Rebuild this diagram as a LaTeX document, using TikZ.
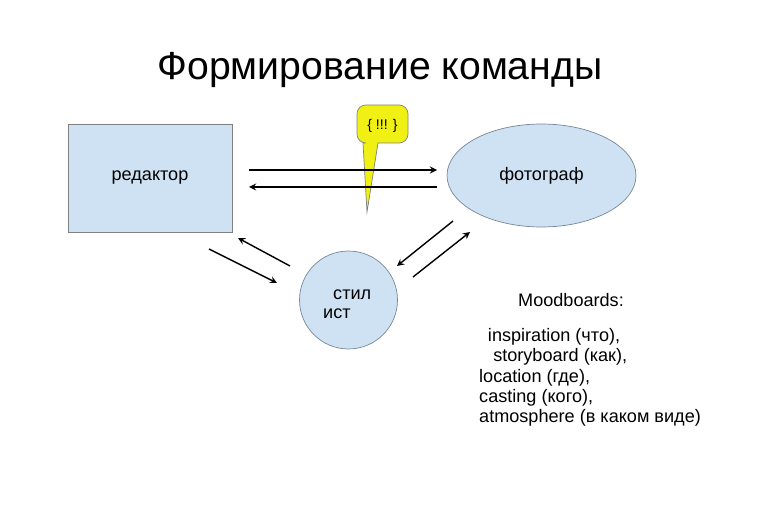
\documentclass[tikz,border=0pt]{standalone}
\usepackage{fontspec}
\setmainfont{Liberation Sans}
\usetikzlibrary{shapes.geometric}

\definecolor{paleblue}{RGB}{207,226,243}
\definecolor{edgeblue}{RGB}{120,135,150}
\definecolor{calloutyellow}{RGB}{240,240,20}

\begin{document}
\begin{tikzpicture}[x=0.02cm, y=-0.02cm,
    block/.style={rectangle, draw=gray, fill=paleblue,
              minimum width=3.28cm, minimum height=2.16cm,
              text centered, font=\fontsize{10.3}{12}\selectfont},
    oval/.style={ellipse, draw=edgeblue, fill=paleblue,
              minimum width=3.78cm, minimum height=2.06cm,
              text centered, font=\fontsize{10.3}{12}\selectfont},
    roundbox/.style={circle, draw=edgeblue, fill=paleblue,
              minimum size=1.96cm, inner sep=0pt},
    plain/.style={font=\fontsize{10.3}{11.6}\selectfont, align=left},
    arrow/.style={->, thick, >=stealth}
]
    \useasboundingbox (0,0) rectangle (765,510);

    \node[font=\fontsize{22.3}{26}\selectfont] (title) at (380,70)
        {Формирование команды};

    \node[block] (ed) at (150,178) {редактор};
    \node[oval] (ph) at (541.5,175.5) {фотограф};
    \node[roundbox] (st) at (348.5,300) {};
    \node[plain, font=\fontsize{10.3}{10.3}\selectfont, anchor=north west]
        (stt) at (317,284) {\hspace*{5.7pt}стил\\ист};

    % callout
    \coordinate (cl) at (357,105);
    \coordinate (cr) at (408,143);
    \coordinate (tip) at (367,212);
    \draw[gray, fill=calloutyellow]
        (378,143) [rounded corners=5pt] -- (cr) -- (cr |- cl) -- (cl)
        -- (cl |- cr) [sharp corners] -- (363,143) -- (tip) -- cycle;
    \node[font=\fontsize{8}{10}\selectfont] (bang) at (382.5,126) {\{ !!! \}};

    % arrows
    \coordinate (a1) at (249,170);  \coordinate (a2) at (437,170);
    \coordinate (b1) at (437,187);  \coordinate (b2) at (249,187);
    \coordinate (c1) at (290,266);  \coordinate (c2) at (238,238);
    \coordinate (d1) at (209,249);  \coordinate (d2) at (277,283);
    \coordinate (e1) at (453,221);  \coordinate (e2) at (397,266);
    \coordinate (f1) at (413,277);  \coordinate (f2) at (470,232);
    \draw[arrow] (a1) -- (a2);
    \draw[arrow] (b1) -- (b2);
    \draw[arrow] (c1) -- (c2);
    \draw[arrow] (d1) -- (d2);
    \draw[arrow] (e1) -- (e2);
    \draw[arrow] (f1) -- (f2);

    \node[plain, anchor=west] (mood) at (512,300) {Moodboards:};
    \node[plain, anchor=north west] (list) at (473,322)
        {\hspace*{5pt}inspiration (что),\\
         \hspace*{8pt}storyboard (как),\\
         location (где),\\
         casting (кого),\\
         atmosphere (в каком виде)};
\end{tikzpicture}
\end{document}
